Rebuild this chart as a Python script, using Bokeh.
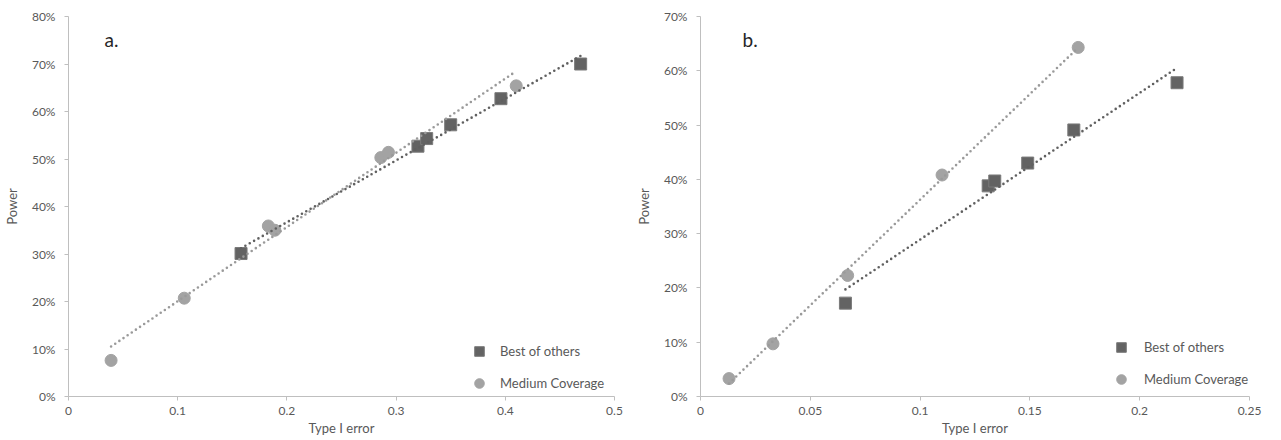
import numpy as np
from bokeh.plotting import figure
from bokeh.models import FixedTicker, NumeralTickFormatter, Legend, LegendItem, Label, Range1d
from bokeh.layouts import row
from bokeh.embed import file_html
from bokeh.resources import INLINE

# ---------------- data ----------------
series_names = ["Best of others", "Medium Coverage"]

# panel a
a_best_x = [0.158, 0.320, 0.328, 0.350, 0.396, 0.469]
a_best_y = [0.301, 0.527, 0.543, 0.572, 0.627, 0.700]
a_med_x = [0.039, 0.106, 0.183, 0.189, 0.286, 0.293, 0.410]
a_med_y = [0.076, 0.207, 0.359, 0.350, 0.503, 0.514, 0.654]

# panel b
b_best_x = [0.066, 0.131, 0.134, 0.149, 0.170, 0.217]
b_best_y = [0.172, 0.388, 0.397, 0.430, 0.491, 0.578]
b_med_x = [0.013, 0.033, 0.067, 0.110, 0.172]
b_med_y = [0.033, 0.097, 0.223, 0.408, 0.643]

a_x_ticks = [0, 0.1, 0.2, 0.3, 0.4, 0.5]
a_x_labels = ["0", "0.1", "0.2", "0.3", "0.4", "0.5"]
a_y_ticks = [0, 0.1, 0.2, 0.3, 0.4, 0.5, 0.6, 0.7, 0.8]

b_x_ticks = [0, 0.05, 0.1, 0.15, 0.2, 0.25]
b_x_labels = ["0", "0.05", "0.1", "0.15", "0.2", "0.25"]
b_y_ticks = [0, 0.1, 0.2, 0.3, 0.4, 0.5, 0.6, 0.7]

panel_tags = ["a.", "b."]

# ---------------- styling ----------------
FONT = "Lato"
TXT = "#595959"
AXIS = "#bfbfbf"
SQ_FILL = "#636363"
SQ_LINE = "#7a7a7a"
CI_FILL = "#a3a3a3"
BEST_TREND = "#606060"
MED_TREND = "#9a9a9a"


def panel(best_x, best_y, med_x, med_y, x_ticks, x_labels, y_ticks, tag,
          width, b_left, b_right, leg_loc, leg_standoff, tag_x):
    p = figure(width=width, height=438, output_backend="svg", toolbar_location=None,
               x_range=Range1d(x_ticks[0], x_ticks[-1]),
               y_range=Range1d(y_ticks[0], y_ticks[-1]),
               min_border_left=b_left, min_border_right=b_right,
               min_border_top=16, min_border_bottom=20)
    p.outline_line_color = None
    p.background_fill_color = "white"
    p.border_fill_color = "white"
    p.xgrid.visible = False
    p.ygrid.visible = False

    for ax in (p.xaxis[0], p.yaxis[0]):
        ax.axis_line_color = AXIS
        ax.major_tick_line_color = AXIS
        ax.major_tick_out = 4
        ax.major_tick_in = 0
        ax.minor_tick_line_color = None
        ax.major_label_text_font = FONT
        ax.major_label_text_font_size = "12px"
        ax.major_label_text_color = TXT
        ax.axis_label_text_font = FONT
        ax.axis_label_text_font_size = "13px"
        ax.axis_label_text_font_style = "normal"
        ax.axis_label_text_color = TXT

    p.xaxis.ticker = FixedTicker(ticks=x_ticks)
    p.xaxis.major_label_overrides = {t: l for t, l in zip(x_ticks, x_labels)}
    p.xaxis.axis_label = "Type I error"
    p.xaxis.major_label_standoff = 6
    p.xaxis.axis_label_standoff = 2

    p.yaxis.ticker = FixedTicker(ticks=y_ticks)
    p.yaxis.formatter = NumeralTickFormatter(format="0%")
    p.yaxis.axis_label = "Power"
    p.yaxis.major_label_standoff = 9
    p.yaxis.axis_label_standoff = 9

    # smaller copies used only for the legend swatches; drawn first and
    # fully hidden under the real markers
    l_best = p.scatter(best_x, best_y, marker="square", size=9,
                       fill_color=SQ_FILL, line_color=SQ_LINE, line_width=1)
    l_med = p.scatter(med_x, med_y, marker="circle", size=8,
                      fill_color=CI_FILL, line_color=CI_FILL, line_width=1)

    p.scatter(best_x, best_y, marker="square", size=12,
              fill_color=SQ_FILL, line_color=SQ_LINE, line_width=1)
    p.scatter(med_x, med_y, marker="circle", size=12,
              fill_color=CI_FILL, line_color=CI_FILL, line_width=1)

    # linear trendlines fitted to the data
    for xs, ys, col in ((best_x, best_y, BEST_TREND), (med_x, med_y, MED_TREND)):
        k, c = np.polyfit(xs, ys, 1)
        x0, x1 = min(xs), max(xs)
        p.line([x0, x1], [k * x0 + c, k * x1 + c], line_color=col,
               line_width=2.6, line_dash="0 5", line_cap="round")

    legend = Legend(items=[LegendItem(label=series_names[0], renderers=[l_best]),
                           LegendItem(label=series_names[1], renderers=[l_med])],
                    location=leg_loc, orientation="vertical",
                    border_line_color=None, background_fill_alpha=0,
                    padding=0, margin=0, spacing=8,
                    glyph_width=24, glyph_height=24, label_standoff=leg_standoff,
                    label_text_font=FONT, label_text_font_size="13px",
                    label_text_color=TXT)
    p.add_layout(legend)

    p.add_layout(Label(x=tag_x, y=357, x_units="screen", y_units="screen", text=tag,
                       text_font=FONT, text_font_size="19px", text_color="#262626",
                       text_baseline="alphabetic"))
    return p


pa = panel(a_best_x, a_best_y, a_med_x, a_med_y, a_x_ticks, a_x_labels, a_y_ticks,
           panel_tags[0], 632, 59, 18, (399, 1), 9, 36)
pb = panel(b_best_x, b_best_y, b_med_x, b_med_y, b_x_ticks, b_x_labels, b_y_ticks,
           panel_tags[1], 632, 63, 15, (409, 5), 11, 42)

layout = row(pa, pb)
open("out.html", "w").write(file_html(layout, INLINE))
